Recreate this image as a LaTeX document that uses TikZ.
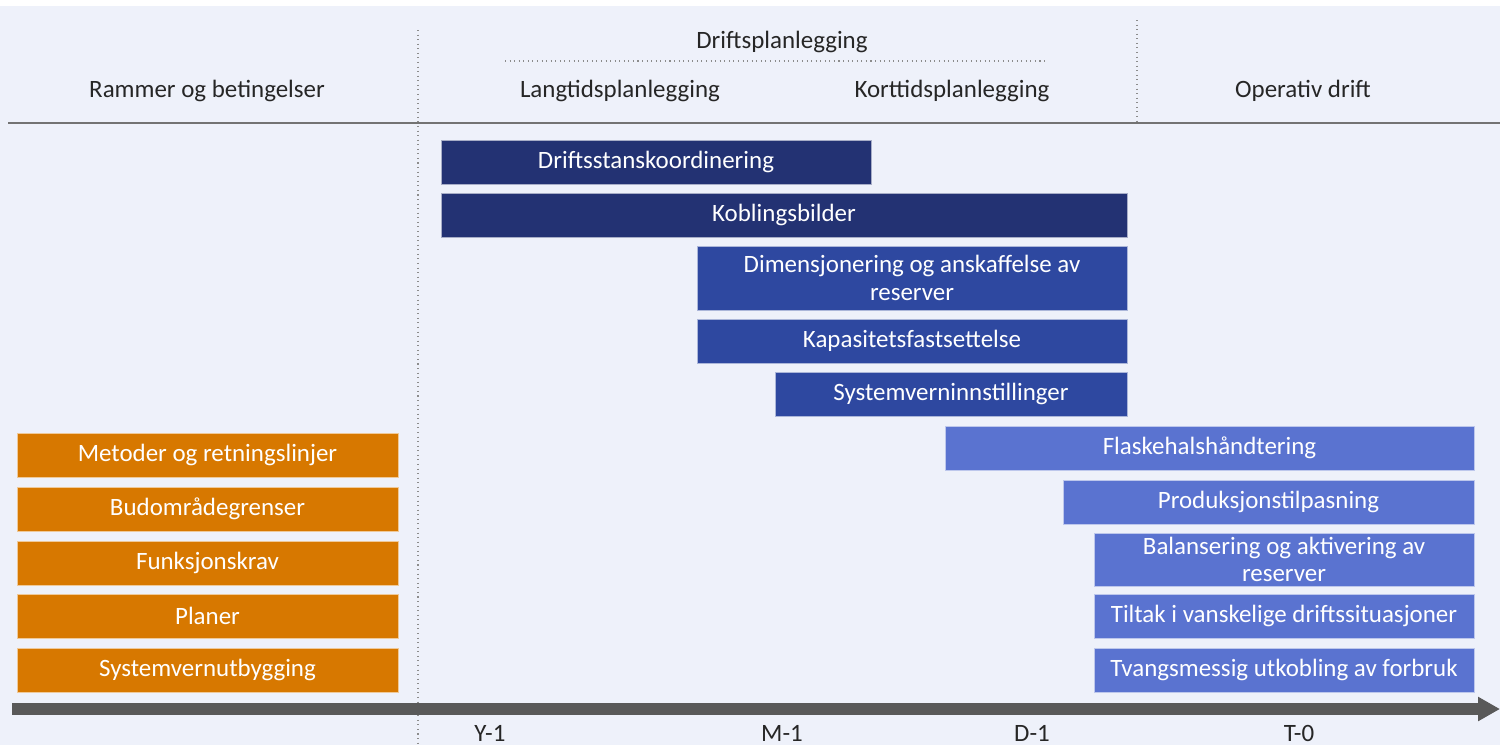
\documentclass[tikz,border=0pt]{standalone}
\usepackage{fontspec}
\setmainfont{Carlito}
\usepackage{tikz}
\usetikzlibrary{arrows.meta}
\definecolor{bakgrunn}{HTML}{EEF1FA}
\definecolor{marine}{HTML}{233273}
\definecolor{mellomblaa}{HTML}{2E48A0}
\definecolor{lyseblaa}{HTML}{5A73D0}
\definecolor{oransje}{HTML}{D77800}
\definecolor{pilgraa}{HTML}{595959}
\tikzset{
  boks/.style = {draw=white!60!#1, line width=0.3pt, fill=#1, text=white, inner sep=0pt, minimum height=0.88cm, align=center, font=\fontsize{14.2}{15.5}\selectfont},
  hode/.style = {text=black!85, font=\fontsize{14.2}{16}\selectfont},
  merke/.style = {hode, inner sep=0pt},
  prikk/.style = {draw=black!45, dotted, line width=0.6pt}
}
\begin{document}
\begin{tikzpicture}[x=0.02cm, y=-0.02cm]
\useasboundingbox (0,0) rectangle (1500,745);
\fill[white] (0,0) rectangle (1500,6);
\fill[bakgrunn] (0,6) rectangle (1500,745);
\coordinate (topp1) at (418,30);
\coordinate (bunn1) at (418,745);
\coordinate (topp2) at (1137,20);
\coordinate (bunn2) at (1137,123);
\coordinate (dpv) at (505,61);
\coordinate (dph) at (1048,61);
\coordinate (linjev) at (8,123);
\coordinate (linjeh) at (1500,123);
\draw[prikk] (topp1) -- (bunn1);
\draw[prikk] (topp2) -- (bunn2);
\draw[prikk] (dpv) -- (dph);
\draw[draw=black!55, line width=1.2pt] (linjev) -- (linjeh);
\node[hode] (drift) at (782,42) {Driftsplanlegging};
\node[hode] (rammer) at (207,91) {Rammer og betingelser};
\node[hode] (lang) at (620,91) {Langtidsplanlegging};
\node[hode] (kort) at (952,91) {Korttidsplanlegging};
\node[hode] (operativ) at (1303,91) {Operativ drift};
\node[boks=marine, minimum width=8.6cm] (stans) at (656,162) {Driftsstanskoordinering};
\node[boks=marine, minimum width=13.72cm] (kobling) at (784,215) {Koblingsbilder};
\node[boks=mellomblaa, minimum width=8.6cm, minimum height=1.28cm] (dimensjon) at (912,278) {Dimensjonering og anskaffelse av\\reserver};
\node[boks=mellomblaa, minimum width=8.6cm] (kapasitet) at (912,341) {Kapasitetsfastsettelse};
\node[boks=mellomblaa, minimum width=7.04cm] (innstilling) at (951,394) {Systemverninnstillinger};
\node[boks=lyseblaa, minimum width=10.58cm] (flaskehals) at (1209.5,448) {Flaskehalshåndtering};
\node[boks=lyseblaa, minimum width=8.22cm] (produksjon) at (1268.5,502) {Produksjonstilpasning};
\node[boks=lyseblaa, minimum width=7.6cm, minimum height=1.06cm] (balansering) at (1284,559.5) {Balansering og aktivering av\\reserver};
\node[boks=lyseblaa, minimum width=7.6cm] (tiltak) at (1284,616) {Tiltak i vanskelige driftssituasjoner};
\node[boks=lyseblaa, minimum width=7.6cm] (tvang) at (1284,670) {Tvangsmessig utkobling av forbruk};
\node[boks=oransje, minimum width=7.62cm] (metoder) at (207.5,455) {Metoder og retningslinjer};
\node[boks=oransje, minimum width=7.62cm] (budomraade) at (207.5,509) {Budområdegrenser};
\node[boks=oransje, minimum width=7.62cm] (funksjon) at (207.5,563) {Funksjonskrav};
\node[boks=oransje, minimum width=7.62cm] (planer) at (207.5,616) {Planer};
\node[boks=oransje, minimum width=7.62cm] (utbygging) at (207.5,670) {Systemvernutbygging};
\coordinate (start) at (12,709);
\coordinate (slutt) at (1500,709);
\draw[pilgraa, line width=0.24cm, -{Triangle[length=0.44cm, width=0.46cm]}] (start) -- (slutt);
\node[merke] (y1) at (490,733) {Y-1};
\node[merke] (m1) at (782,733) {M-1};
\node[merke] (d1) at (1032,733) {D-1};
\node[merke] (t0) at (1299,733) {T-0};
\end{tikzpicture}
\end{document}
